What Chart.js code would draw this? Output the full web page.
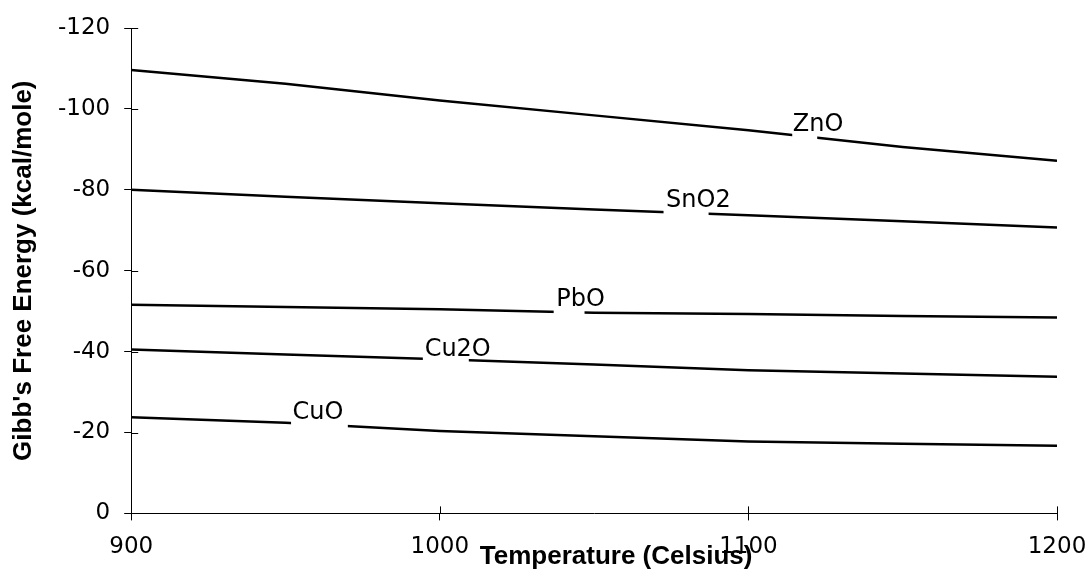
<!DOCTYPE html>
<html>
<head>
<meta charset="utf-8">
<script src="https://cdn.jsdelivr.net/npm/chart.js@4.4.1/dist/chart.umd.min.js"></script>
<style>
    body { margin: 0; background: #fff; }
    #caixa { width: 1090px; height: 580px; }
</style>
</head>
<body>
<div id="caixa"><canvas id="grafico" width="1090" height="580"></canvas></div>
<script>
// dados
const temperaturas = [900, 950, 1000, 1050, 1100, 1150, 1200];
const ZnO  = [-109.6, -106.2, -102.1, -98.4, -94.7, -90.6, -87.2];
const SnO2 = [-80.0, -78.3, -76.7, -75.1, -73.7, -72.2, -70.7];
const PbO  = [-51.6, -51.0, -50.5, -49.6, -49.3, -48.8, -48.4];
const Cu2O = [-40.5, -39.3, -38.1, -36.8, -35.4, -34.6, -33.8];
const CuO  = [-23.8, -22.4, -20.4, -19.1, -17.8, -17.2, -16.7];

const ticksX = [900, 1000, 1100, 1200];
const ticksY = [-120, -100, -80, -60, -40, -20, 0];

const series = [
    { nome: 'ZnO', valores: ZnO },
    { nome: 'SnO2', valores: SnO2 },
    { nome: 'PbO', valores: PbO },
    { nome: 'Cu2O', valores: Cu2O },
    { nome: 'CuO', valores: CuO }
];

// rótulos escritos sobre as linhas (temperatura, valor, trecho apagado da linha)
const rotulos = [
    { texto: 'ZnO',  temp: 1122.6, valor: -96.0, corteIni: 1114.2, corteFim: 1122.3 },
    { texto: 'SnO2', temp: 1083.8, valor: -77.4, corteIni: 1072.5, corteFim: 1087.1 },
    { texto: 'PbO',  temp: 1045.6, valor: -52.7, corteIni: 1036.9, corteFim: 1046.9 },
    { texto: 'Cu2O', temp: 1005.8, valor: -40.4, corteIni: 994.5,  corteFim: 1009.4 },
    { texto: 'CuO',  temp: 960.5,  valor: -25.0, corteIni: 951.8,  corteFim: 970.2 }
];

const tituloX = 'Temperature (Celsius)';

const pluginRotulos = {
    id: 'rotulos',
    afterDatasetsDraw(chart) {
        const ctx = chart.ctx;
        const sx = chart.scales.x;
        const sy = chart.scales.y;
        const area = chart.chartArea;
        ctx.save();

        // parte interna dos tracinhos (cruzam o eixo)
        ctx.strokeStyle = '#000';
        ctx.lineWidth = 1;
        ctx.beginPath();
        ticksY.forEach(v => {
            const py = Math.round(sy.getPixelForValue(v)) + 0.5;
            ctx.moveTo(area.left, py);
            ctx.lineTo(area.left + 7, py);
        });
        ticksX.forEach(v => {
            const px = Math.round(sx.getPixelForValue(v)) + 0.5;
            ctx.moveTo(px, area.bottom);
            ctx.lineTo(px, area.bottom - 7);
        });
        ctx.stroke();

        ctx.font = '24px "DejaVu Sans"';
        ctx.textAlign = 'center';
        ctx.textBaseline = 'middle';
        rotulos.forEach(r => {
            const cx = sx.getPixelForValue(r.temp);
            const cy = sy.getPixelForValue(r.valor);
            const x0 = sx.getPixelForValue(r.corteIni);
            const x1 = sx.getPixelForValue(r.corteFim);
            ctx.fillStyle = '#fff';
            ctx.fillRect(x0, cy - 10, x1 - x0, 36);
            ctx.fillStyle = '#000';
            ctx.fillText(r.texto, cx, cy);
        });

        // título do eixo x, um pouco à direita do centro como no original
        ctx.font = 'bold 26px "Liberation Sans", Arial';
        ctx.fillText(tituloX, (area.left + area.right) / 2 + 22, area.bottom + 43);
        ctx.restore();
    }
};

const ctx = document.getElementById('grafico').getContext('2d');
new Chart(ctx, {
    type: 'line',
    data: {
        datasets: series.map(s => ({
            label: s.nome,
            data: temperaturas.map((t, i) => ({ x: t, y: s.valores[i] })),
            borderColor: '#000',
            borderWidth: 2.5,
            pointRadius: 0,
            tension: 0,
            fill: false
        }))
    },
    options: {
        responsive: false,
        animation: false,
        layout: { padding: { left: 0, right: 33, top: 28, bottom: 6 } },
        plugins: {
            legend: { display: false },
            tooltip: { enabled: false }
        },
        scales: {
            x: {
                type: 'linear',
                min: 900,
                max: 1200,
                border: { display: true, color: '#000', width: 1 },
                grid: { drawOnChartArea: false, drawTicks: true, tickLength: 7, color: '#000' },
                afterBuildTicks: scale => { scale.ticks = ticksX.map(v => ({ value: v })); },
                afterFit: scale => { scale.paddingRight = 0; },
                ticks: {
                    color: '#000',
                    padding: 13,
                    maxRotation: 0,
                    font: { family: '"DejaVu Sans"', size: 23 },
                    callback: v => String(v)
                },
                title: { display: false }
            },
            y: {
                type: 'linear',
                reverse: true,
                min: -120,
                max: 0,
                border: { display: true, color: '#000', width: 1 },
                grid: { drawOnChartArea: false, drawTicks: true, tickLength: 7, color: '#000' },
                afterBuildTicks: scale => { scale.ticks = ticksY.map(v => ({ value: v })); },
                ticks: {
                    color: '#000',
                    padding: 14,
                    font: { family: '"DejaVu Sans"', size: 23 },
                    callback: v => String(v)
                },
                title: {
                    display: true,
                    text: "Gibb's Free Energy (kcal/mole)",
                    color: '#000',
                    font: { family: '"Liberation Sans", Arial', size: 26, weight: 'bold', lineHeight: 1 },
                    padding: { top: 11, bottom: 7 }
                }
            }
        }
    },
    plugins: [pluginRotulos]
});
</script>
</body>
</html>
